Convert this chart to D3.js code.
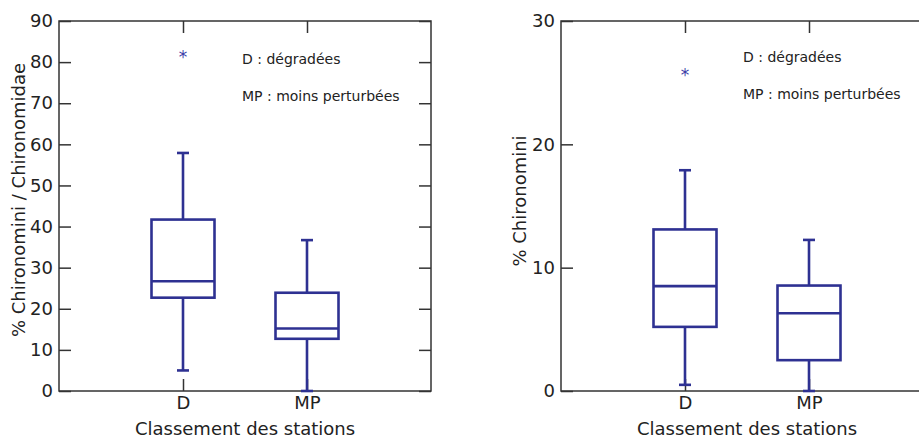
<!DOCTYPE html>
<html>
<head>
<meta charset="utf-8">
<script src="https://cdn.jsdelivr.net/npm/d3@7"></script>
<style>
  body { margin: 0; background: #fff; }
  svg text { font-family: "DejaVu Sans", sans-serif; fill: #222; }
</style>
</head>
<body>
<div class="js-canvas"></div>
<script>
'use strict';

// data
const categories = ['D', 'MP'];
const legendLines = ['D : dégradées', 'MP : moins perturbées'];

// [lowWhisker, q1, median, q3, highWhisker]
const ratioStats = [[5.0, 22.7, 26.7, 41.7, 57.9], [0, 12.7, 15.2, 23.9, 36.7]];
const ratioOutliers = [[82]];
const ratioTicks = [0, 10, 20, 30, 40, 50, 60, 70, 80, 90];

const chiroStats = [[0.5, 5.2, 8.5, 13.1, 17.9], [0, 2.5, 6.3, 8.55, 12.25]];
const chiroOutliers = [[25.9]];
const chiroTicks = [0, 10, 20, 30];

const config = {
    width: 919,
    height: 439,
    boxColor: '#2e3192',
    frameColor: '#333',
    boxWidth: 63,
    capWidth: 12,
    tick: 12
};

const svg = d3.select('.js-canvas')
    .append('svg')
    .attr('width', config.width)
    .attr('height', config.height);

const styleAxis = (sel) => {
    sel.select('.domain').remove();
    sel.selectAll('line').attr('stroke', config.frameColor).attr('stroke-width', 1.5);
    sel.selectAll('text').attr('font-size', 18)
        .style('font-family', '"DejaVu Sans", sans-serif').attr('fill', '#222');
};

const drawPanel = (opts) => {
    const w = 372, h = 370;
    const g = svg.append('g')
        .attr('transform', `translate(${opts.left}, 21)`);

    const x = d3.scaleLinear().domain([0, 3]).range([0, w]);
    const y = d3.scaleLinear().domain([0, opts.max]).range([h, 0]);

    // frame
    g.append('rect')
        .attr('width', w).attr('height', h)
        .attr('fill', 'none')
        .attr('stroke', config.frameColor)
        .attr('stroke-width', 1.5);

    // y axis, inward ticks
    g.append('g')
        .call(d3.axisLeft(y).tickValues(opts.ticks).tickSize(-config.tick).tickPadding(6))
        .call(styleAxis);

    if (opts.rightTicks) {
        g.append('g').attr('transform', `translate(${w},0)`)
            .call(d3.axisRight(y).tickValues(opts.ticks).tickSize(-config.tick).tickFormat(''))
            .call(styleAxis);
    }

    // x axis, inward ticks at top and bottom
    g.append('g').attr('transform', `translate(0,${h})`)
        .call(d3.axisBottom(x).tickValues([1, 2]).tickSize(-config.tick).tickPadding(5)
            .tickFormat((d, i) => categories[i]))
        .call(styleAxis);

    g.append('g')
        .call(d3.axisTop(x).tickValues([1, 2]).tickSize(-config.tick).tickFormat(''))
        .call(styleAxis);

    // boxes
    const boxes = g.selectAll('g.box')
        .data(opts.stats)
        .enter()
        .append('g')
        .attr('class', 'box')
        .attr('transform', (d, i) => `translate(${x(i + 1)},0)`);

    const line = (sel) => sel.attr('stroke', config.boxColor).attr('stroke-width', 2.6).attr('fill', 'none');

    boxes.append('line').call(line)
        .attr('y1', d => y(d[0])).attr('y2', d => y(d[1]));
    boxes.append('line').call(line)
        .attr('y1', d => y(d[3])).attr('y2', d => y(d[4]));
    boxes.append('line').call(line)
        .attr('x1', -config.capWidth / 2).attr('x2', config.capWidth / 2)
        .attr('y1', d => y(d[0])).attr('y2', d => y(d[0]));
    boxes.append('line').call(line)
        .attr('x1', -config.capWidth / 2).attr('x2', config.capWidth / 2)
        .attr('y1', d => y(d[4])).attr('y2', d => y(d[4]));
    boxes.append('rect').call(line)
        .attr('x', -config.boxWidth / 2).attr('width', config.boxWidth)
        .attr('y', d => y(d[3])).attr('height', d => y(d[1]) - y(d[3]));
    boxes.append('line').call(line)
        .attr('x1', -config.boxWidth / 2).attr('x2', config.boxWidth / 2)
        .attr('y1', d => y(d[2])).attr('y2', d => y(d[2]));

    // outliers
    opts.outliers.forEach((vals, i) => {
        g.selectAll(null).data(vals).enter()
            .append('text')
            .attr('x', x(i + 1))
            .attr('y', d => y(d) + 9)
            .attr('text-anchor', 'middle')
            .attr('font-size', 17)
            .style('fill', '#3b3fa8')
            .text('*');
    });

    // legend text
    g.selectAll('text.legend')
        .data(legendLines)
        .enter()
        .append('text')
        .attr('class', 'legend')
        .attr('x', opts.legendX)
        .attr('y', (d, i) => opts.legendY + i * 37)
        .attr('font-size', 14)
        .text(d => d);

    // axis titles
    g.append('text')
        .attr('x', w / 2)
        .attr('y', h + 44)
        .attr('text-anchor', 'middle')
        .attr('font-size', 18)
        .text('Classement des stations');

    g.append('text')
        .attr('transform', `translate(${opts.titleX},${opts.titleY}) rotate(-90)`)
        .attr('text-anchor', 'middle')
        .attr('font-size', 18)
        .text(opts.title);
};

drawPanel({
    left: 59,
    max: 90,
    ticks: ratioTicks,
    stats: ratioStats,
    outliers: ratioOutliers,
    rightTicks: true,
    legendX: 183,
    legendY: 43,
    titleX: -34,
    titleY: 179,
    title: '% Chironomini / Chironomidae'
});

drawPanel({
    left: 561,
    max: 30,
    ticks: chiroTicks,
    stats: chiroStats,
    outliers: chiroOutliers,
    rightTicks: false,
    legendX: 182,
    legendY: 41,
    titleX: -35,
    titleY: 180,
    title: '% Chironomini'
});
</script>
</body>
</html>
